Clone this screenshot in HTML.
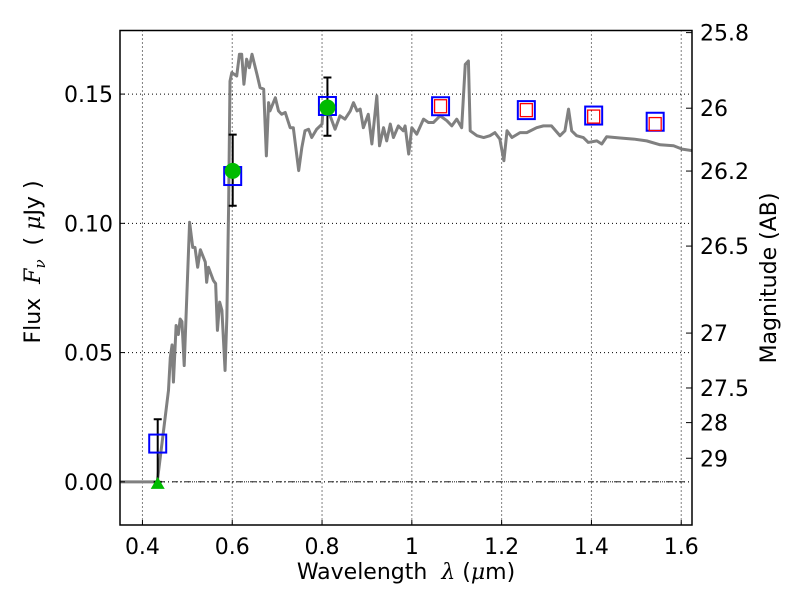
<!DOCTYPE html>
<html><head><meta charset="utf-8"><style>
body{margin:0;background:#fff}
svg{display:block;font-family:"DejaVu Sans","Liberation Sans",sans-serif}
</style></head><body>
<svg id="c" width="800" height="600" viewBox="0 0 800 600"></svg>
<script>
const xTicks=[0.4,0.6,0.8,1.0,1.2,1.4,1.6];
const xTickLabels=["0.4","0.6","0.8","1","1.2","1.4","1.6"];
const yTicks=[0,0.05,0.10,0.15];
const yTickLabels=["0.00","0.05","0.10","0.15"];
const magTicks=[25.8,26,26.2,26.5,27,27.5,28,29];
const magTickLabels=["25.8","26","26.2","26.5","27","27.5","28","29"];
const specW=[0.35,0.433,0.458,0.462,0.466,0.469,0.475,0.48,0.484,0.488,0.493,0.505,0.512,0.517,0.523,0.529,0.54,0.543,0.547,0.558,0.563,0.567,0.572,0.577,0.584,0.588,0.592,0.595,0.599,0.61,0.616,0.621,0.626,0.632,0.638,0.644,0.655,0.662,0.67,0.676,0.681,0.684,0.696,0.703,0.71,0.718,0.729,0.736,0.748,0.755,0.762,0.77,0.777,0.788,0.8,0.803,0.814,0.829,0.84,0.851,0.863,0.87,0.878,0.885,0.892,0.903,0.911,0.922,0.928,0.937,0.944,0.952,0.959,0.97,0.981,0.985,0.993,1.0,1.011,1.026,1.037,1.048,1.063,1.078,1.089,1.1,1.111,1.119,1.126,1.13,1.145,1.16,1.174,1.185,1.196,1.205,1.212,1.223,1.241,1.256,1.278,1.293,1.311,1.33,1.341,1.349,1.356,1.367,1.382,1.393,1.412,1.423,1.434,1.464,1.494,1.523,1.553,1.583,1.602,1.625];
const specF=[0,0,0.0354,0.048,0.053,0.0386,0.0605,0.057,0.063,0.062,0.045,0.1004,0.0907,0.0907,0.083,0.0898,0.085,0.0772,0.083,0.0779,0.0767,0.0586,0.0695,0.0663,0.0431,0.0637,0.1076,0.155,0.1583,0.157,0.1654,0.1654,0.1538,0.1635,0.1602,0.1654,0.1577,0.1525,0.1519,0.1261,0.1467,0.1435,0.1486,0.1435,0.1422,0.1429,0.137,0.137,0.1204,0.1293,0.1358,0.1364,0.1332,0.1364,0.1384,0.1454,0.1435,0.1364,0.1416,0.1403,0.1435,0.1467,0.1435,0.1442,0.137,0.1422,0.1307,0.1493,0.13,0.137,0.1319,0.1384,0.1332,0.1377,0.1358,0.1377,0.1268,0.137,0.1345,0.1403,0.139,0.139,0.1416,0.1397,0.1377,0.1403,0.137,0.1615,0.1628,0.1358,0.1339,0.1332,0.1339,0.1351,0.1326,0.1242,0.1358,0.1332,0.1351,0.1351,0.137,0.1377,0.1377,0.1339,0.1358,0.1442,0.1358,0.1339,0.1332,0.1313,0.1319,0.1307,0.1335,0.133,0.1326,0.1319,0.1304,0.13,0.1287,0.1281];
const obsW=[0.434,0.601,0.812,1.064,1.255,1.405,1.542];
const obsF=[0.0148,0.1183,0.1454,0.1453,0.1438,0.1417,0.1393];
const modW=[1.064,1.255,1.405,1.542];
const modF=[0.1453,0.1438,0.1413,0.1384];
const detW=[0.601,0.812];
const detF=[0.1203,0.1448];
const errW=[0.434,0.601,0.812];
const errLo=[0,0.1068,0.1339];
const errHi=[0.0242,0.1343,0.1564];
const limW=[0.434];
const limF=[0];

const L=120,R=692,T=30.5,B=525;
const x0=0.35,x1=1.624,y0=-0.0167,y1=0.1746;
const X=v=>L+(v-x0)/(x1-x0)*(R-L);
const Y=v=>B-(v-y0)/(y1-y0)*(B-T);
const magToFlux=m=>Math.pow(10,-(m-23.9)/2.5);
const NS="http://www.w3.org/2000/svg";
const svg=document.getElementById('c');
function mk(tag,attrs,parent){const e=document.createElementNS(NS,tag);for(const k in attrs)e.setAttribute(k,attrs[k]);(parent||svg).appendChild(e);return e;}
const clip=mk('clipPath',{id:'cp'});mk('rect',{x:L,y:T,width:R-L,height:B-T},clip);
const g=mk('g',{'clip-path':'url(#cp)'});


xTicks.forEach((t,i)=>{
  const l=mk('line',{x1:X(t),x2:X(t),y1:T,y2:B,stroke:'#000','stroke-width':1,'stroke-dasharray':'1,3'},g);
  
  
  const tk=mk('line',{x1:X(t),x2:X(t),y1:B,y2:B-5,stroke:'#000'});
  
  
  const tx=mk('text',{x:X(t),y:B+29,'font-size':22,'text-anchor':'middle'});
  tx.textContent=xTickLabels[i];
  
  
});
yTicks.forEach((t,i)=>{
  const l=mk('line',{x1:L,x2:R,y1:Y(t),y2:Y(t),stroke:'#000','stroke-width':1,'stroke-dasharray':'1,3'},g);
  
  
  const tk=mk('line',{x1:L,x2:L+5,y1:Y(t),y2:Y(t),stroke:'#000'});
  
  
  const tx=mk('text',{x:L-7,y:Y(t)+8,'font-size':22,'text-anchor':'end'});
  tx.textContent=yTickLabels[i];
  
  
});
magTicks.forEach((m,i)=>{
  const yy=Y(magToFlux(m));
  const tk=mk('line',{x1:R,x2:R-6,y1:yy,y2:yy,stroke:'#000'});
  
  
  const tx=mk('text',{x:R+8,y:yy+8,'font-size':22});
  tx.textContent=magTickLabels[i];
  
  
});
const zl=mk('line',{x1:L,x2:R,y1:Y(0),y2:Y(0),stroke:'#000','stroke-width':0.8,'stroke-dasharray':'6,3,1,3'},g);


const sp=mk('polyline',{points:specW.map((w,i)=>X(w)+','+Y(specF[i])).join(' '),fill:'none',stroke:'#808080','stroke-width':3,'stroke-linejoin':'round'},g);


errW.forEach((w,i)=>{
  const x=X(w),a=Y(errLo[i]),b=Y(errHi[i]);
  const e=mk('path',{d:`M${x},${a}V${b}M${x-4},${a}H${x+4}M${x-4},${b}H${x+4}`,stroke:'#000','stroke-width':2,fill:'none'},g);
  
  
});
obsW.forEach((w,i)=>{
  const r=mk('rect',{x:X(w)-8.5,y:Y(obsF[i])-9,width:17,height:18,fill:'none',stroke:'#0000ff','stroke-width':2},g);
  
  
});
modW.forEach((w,i)=>{
  const r=mk('rect',{x:X(w)-6,y:Y(modF[i])-6.5,width:12,height:13,fill:'none',stroke:'#ff0000','stroke-width':1.3},g);
  
  
});
detW.forEach((w,i)=>{
  const c=mk('circle',{cx:X(w),cy:Y(detF[i]),r:8,fill:'#00bb00'},g);
  
  
});
limW.forEach((w,i)=>{
  const x=X(w),y=Y(limF[i]);
  const p=mk('polygon',{points:`${x},${y-5} ${x-7},${y+7} ${x+7},${y+7}`,fill:'#00bb00'},g);
  
  
});
const fr=mk('rect',{x:L,y:T,width:R-L,height:B-T,fill:'none',stroke:'#000','stroke-width':1.5});


</script>
<div style="position:absolute;left:0;top:0;width:800px;height:600px;pointer-events:none;font-family:'DejaVu Sans','Liberation Sans',sans-serif">
<div style="position:absolute;left:0;width:812px;top:560px;text-align:center;font-size:22px;line-height:26px">Wavelength &nbsp;<i style="font-family:'DejaVu Serif',serif">λ</i> (<i style="font-family:'DejaVu Serif',serif">μ</i>m)</div>
<div style="position:absolute;left:37px;top:262px;transform:translate(-50%,-50%) rotate(-90deg);white-space:nowrap;font-size:22px;line-height:26px">Flux &nbsp;<i style="font-family:'DejaVu Serif',serif">F<sub style="font-size:15px">ν</sub></i> &nbsp;( <i style="font-family:'DejaVu Serif',serif">μ</i>Jy )</div>
<div style="position:absolute;left:770px;top:278px;transform:translate(-50%,-50%) rotate(-90deg);white-space:nowrap;font-size:22px;line-height:26px">Magnitude (AB)</div>
</div>
</body></html>
